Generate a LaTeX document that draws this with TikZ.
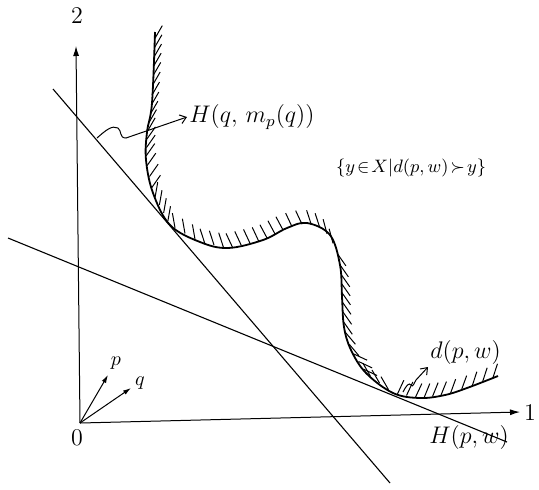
\documentclass[tikz,border=0pt]{standalone}
\usepackage{amsmath,amssymb}
\usetikzlibrary{arrows.meta}
\tikzset{
  axis/.style={line width=0.5pt,-{Latex[length=5pt,width=3pt]}},
  vec/.style={line width=0.5pt,-{Latex[length=4pt,width=2.4pt]}},
  tline/.style={line width=0.55pt},
  leader/.style={line width=0.5pt,-{Straight Barb[length=3pt,width=4.5pt]}},
  hatch/.style={line width=0.5pt},
  lbl/.style={font=\large,inner sep=1pt}
}
\begin{document}
\begin{tikzpicture}[x=0.5pt,y=-0.5pt]
  \useasboundingbox (0,0) rectangle (539,489);
  % axes
  \coordinate (O) at (80,423);
  \coordinate (ytip) at (76,46);
  \coordinate (xtip) at (520,412);
  \node[lbl] (two) at (77,16) {$2$};
  \node[lbl] (one) at (530,413) {$1$};
  \node[lbl] (zero) at (77,438) {$0$};
  \draw[axis] (O) -- (ytip);
  \draw[axis] (O) -- (xtip);
  % price vectors
  \coordinate (ptip) at (108,375);
  \coordinate (qtip) at (131,388);
  \node[lbl,font=\normalsize] (plbl) at (116,363) {$p$};
  \node[lbl,font=\normalsize] (qlbl) at (140,383) {$q$};
  \draw[vec] (O) -- (ptip);
  \draw[vec] (O) -- (qtip);
  % supporting lines
  \coordinate (Ha) at (53,89);
  \coordinate (Hb) at (390,483);
  \coordinate (Hc) at (8,238);
  \coordinate (Hd) at (507,442);
  \draw[tline] (Ha) -- (Hb);
  \draw[tline] (Hc) -- (Hd);
  % the curve d(p,w) and its upper set
  \draw[line width=0.9pt] plot[smooth,tension=0.6] coordinates {
    (155,32) (152,103) (147,132) (146,160) (153,193) (170,225) (200,242)
    (228,248) (263,240) (287,228) (307,223) (330,235) (340,265) (342,297)
    (344,327) (351,350) (366,373) (393,393) (420,398) (445,395) (467,388) (498,376)};
  % hatching: segment / stroke angle
  \foreach \ax/\ay/\bx/\by/\ang in {155/34/153/80/60, 153/80/151/110/60,
      151/110/147/135/60, 147/135/146/160/55, 146/160/153/193/55,
      153/193/170/225/80, 170/225/200/242/100, 200/242/228/248/108,
      228/248/263/240/115, 263/240/287/228/118, 287/228/307/223/115,
      307/223/324/229/108, 324/229/336/248/105, 336/248/341/270/-55,
      341/270/342/297/-55, 342/297/344/327/-55, 344/327/351/350/-50,
      351/350/366/373/-25, 366/373/393/393/120, 393/393/420/398/65,
      420/398/445/395/68, 445/395/467/388/70, 467/388/498/376/72} {
    \pgfmathsetmacro\seglen{veclen(\bx-\ax,\by-\ay)}
    \pgfmathtruncatemacro\nh{max(1,round(\seglen/10))}
    \foreach \k in {1,...,\nh} {
      \pgfmathsetmacro\t{(\k-0.5)/\nh}
      \draw[hatch] ({\ax+\t*(\bx-\ax)},{\ay+\t*(\by-\ay)}) -- ++({-\ang}:15);
    }
  }
  % labels
  \node[lbl,anchor=west] (Hq) at (187,117) {$H(q,\,m_p(q))$};
  \node[lbl,font=\small] (setlbl) at (411,168) {$\{y\!\in\! X|d(p,w)\!\succ\! y\}$};
  \node[lbl,anchor=south west] (dlbl) at (428,367) {$d(p,w)$};
  \node[lbl] (Hp) at (469,437) {$H(p,w)$};
  \coordinate (hq0) at (97,138);
  \coordinate (dp0) at (403,392);
  \draw[leader] (hq0) .. controls (106,130) and (112,125) .. (118,128)
    .. controls (122,131) and (119,138) .. (126,138) -- (Hq.west);
  \draw[leader] (dp0) .. controls (406,386) and (409,382) .. (411,385)
    .. controls (413,388) and (414,383) .. (416,380) -- (dlbl.south west);
\end{tikzpicture}
\end{document}
